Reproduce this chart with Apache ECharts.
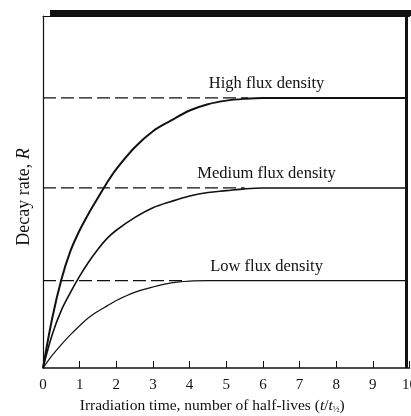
<!DOCTYPE html>
<html>
<head>
<meta charset="utf-8">
<script src="https://cdn.jsdelivr.net/npm/echarts@6/dist/echarts.min.js"></script>
<style>
html,body{margin:0;padding:0;background:#fff;}
#c{width:411px;height:416px;}
</style>
</head>
<body>
<div id="c"></div>
<script>
// ---- data ----
var seriesNames = ['High flux density','Medium flux density','Low flux density'];
var levels = [3.0, 2.0, 0.97];            // saturation levels (arbitrary units)
var dashEnd = [5.6, 5.5, 3.8];            // where dashed guide lines meet curves

// irradiation time (half-lives) at which the curves were read
var tRead = [0, 0.25, 0.5, 0.75, 1, 1.25, 1.5, 1.75, 2, 2.5, 3, 3.5, 4, 4.5, 5, 5.5, 6, 7, 8, 9, 9.9];
var highR = [0, 0.55, 0.98, 1.30, 1.53, 1.72, 1.89, 2.06, 2.21, 2.45, 2.63, 2.75, 2.86, 2.93, 2.97, 2.99, 3.0, 3.0, 3.0, 3.0, 3.0];
var medR  = [0, 0.37, 0.64, 0.84, 1.02, 1.18, 1.32, 1.44, 1.53, 1.67, 1.78, 1.85, 1.91, 1.95, 1.97, 1.99, 2.0, 2.0, 2.0, 2.0, 2.0];
var lowR  = [0, 0.14, 0.26, 0.37, 0.47, 0.56, 0.63, 0.69, 0.75, 0.84, 0.90, 0.945, 0.965, 0.97, 0.97, 0.97, 0.97, 0.97, 0.97, 0.97, 0.97];

function pairs(xs, ys){ return xs.map(function(x,i){ return [x, ys[i]]; }); }

var serif = '"Liberation Serif", "DejaVu Serif", serif';
var ink = '#111';

var chart = echarts.init(document.getElementById('c'), null, {renderer:'canvas'});

var curveDefs = [
  {r: highR, w: 2.0},
  {r: medR, w: 1.6},
  {r: lowR, w: 1.2}
];

var series = [];
curveDefs.forEach(function(c, i){
  series.push({
    name: seriesNames[i],
    type: 'line',
    data: pairs(tRead, c.r),
    smooth: 0.35,
    showSymbol: false,
    symbol: 'none',
    lineStyle: {color: ink, width: c.w},
    z: 3,
    markPoint: {
      symbol: 'circle',
      symbolSize: 0,
      silent: true,
      data: [{coord: [6.1, levels[i]], value: seriesNames[i]}],
      label: {
        show: true, position: 'top', distance: 6,
        formatter: seriesNames[i],
        fontFamily: serif, fontSize: 16.5, color: ink
      }
    }
  });
  series.push({
    name: seriesNames[i] + ' guide',
    type: 'line',
    data: [[0, levels[i]], [dashEnd[i], levels[i]]],
    showSymbol: false,
    symbol: 'none',
    lineStyle: {color: ink, width: 1.2, type: [13, 5]},
    z: 2
  });
});

var option = {
  animation: false,
  backgroundColor: '#fff',
  grid: {left: 43, right: 1.5, top: 16, bottom: 48, containLabel: false, outerBoundsMode: 'none'},
  xAxis: [{
    type: 'value', min: 0, max: 10, interval: 1,
    axisLine: {show: true, lineStyle: {color: ink, width: 1.5}},
    axisTick: {show: true, inside: true, length: 7, lineStyle: {color: ink, width: 1}},
    splitLine: {show: false},
    axisLabel: {show: true, fontFamily: serif, fontSize: 15, color: ink, margin: 10,
      formatter: function(v){ return String(v); }},
    name: '{n|Irradiation time, number of half-lives (}{i|t}{n|/}{i|t}{s|½}{n|)}',
    nameLocation: 'middle', nameGap: 29,
    nameTextStyle: {
      fontFamily: serif, fontSize: 15.5, color: ink,
      padding: [0, 28, 0, 0],
      rich: {
        n: {fontFamily: serif, fontSize: 15.5, color: ink},
        i: {fontFamily: serif, fontSize: 15.5, color: ink, fontStyle: 'italic'},
        s: {fontFamily: serif, fontSize: 9, color: ink, verticalAlign: 'bottom', padding: [6,0,0,0]}
      }
    }
  }, {
    type: 'value', min: 0, max: 10, position: 'top',
    axisLine: {show: true, lineStyle: {color: ink, width: 1}},
    axisTick: {show: false}, axisLabel: {show: false}, splitLine: {show: false}
  }],
  yAxis: [{
    type: 'value', min: 0, max: 3.91,
    axisLine: {show: true, lineStyle: {color: ink, width: 1.2}},
    axisTick: {show: false}, axisLabel: {show: false}, splitLine: {show: false},
    name: '{n|Decay rate, }{i|R}',
    nameLocation: 'middle', nameGap: 10, nameRotate: 90,
    nameTextStyle: {
      fontFamily: serif, fontSize: 18, color: ink,
      padding: [0, 10, 0, 0],
      rich: {
        n: {fontFamily: serif, fontSize: 18, color: ink},
        i: {fontFamily: serif, fontSize: 18, color: ink, fontStyle: 'italic'}
      }
    }
  }],
  graphic: [
    {type: 'rect', shape: {x: 50, y: 10, width: 361, height: 6}, style: {fill: ink}, z: 10},
    {type: 'rect', shape: {x: 405, y: 10, width: 3, height: 358}, style: {fill: ink}, z: 10}
  ],
  series: series
};

chart.setOption(option);
</script>
</body>
</html>
